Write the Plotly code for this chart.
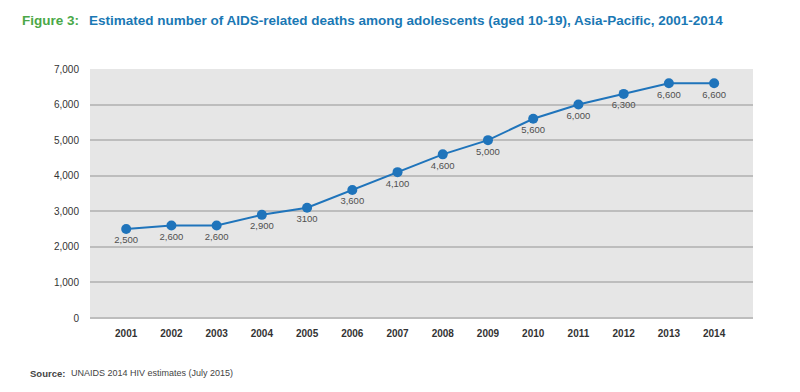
import plotly.graph_objects as go

years = [2001, 2002, 2003, 2004, 2005, 2006, 2007, 2008, 2009, 2010, 2011, 2012, 2013, 2014]
deaths = [2500, 2600, 2600, 2900, 3100, 3600, 4100, 4600, 5000, 5600, 6000, 6300, 6600, 6600]
labels = ["2,500", "2,600", "2,600", "2,900", "3100", "3,600", "4,100", "4,600", "5,000",
          "5,600", "6,000", "6,300", "6,600", "6,600"]
y_ticks = [0, 1000, 2000, 3000, 4000, 5000, 6000, 7000]
y_tick_labels = ["0", "1,000", "2,000", "3,000", "4,000", "5,000", "6,000", "7,000"]

FONT = "Liberation Sans, Arial"
BLUE = "#1f74bb"

L, R, T, B = 90, 47, 69, 74
W, H = 800, 392

fig = go.Figure()
fig.add_trace(go.Scatter(
    x=years, y=deaths, mode="lines+markers+text",
    text=labels, textposition="bottom center",
    textfont=dict(family=FONT, size=9.5, color="#505050"),
    line=dict(color=BLUE, width=2),
    marker=dict(color=BLUE, size=10),
    cliponaxis=False, hoverinfo="skip",
))


def px_ann(text, px, py, size, color, anchor="left"):
    return dict(
        text=text, x=(px - L) / (W - L - R), y=1 - (py - T) / (H - T - B),
        xref="paper", yref="paper", showarrow=False,
        xanchor=anchor, yanchor="middle",
        font=dict(family=FONT, size=size, color=color),
    )


fig.update_layout(
    width=W, height=H,
    margin=dict(l=L, r=R, t=T, b=B),
    paper_bgcolor="white", plot_bgcolor="#e6e6e6",
    showlegend=False,
    font=dict(family=FONT, size=10, color="#333333"),
    xaxis=dict(
        tickmode="array", tickvals=years, ticktext=[f"<b>{y}</b>" for y in years],
        range=[2000.2, 2014.86], showgrid=False, zeroline=False, showline=False,
        ticks="", ticklabelstandoff=8, tickfont=dict(family=FONT, size=10, color="#333333"),
        fixedrange=True,
    ),
    yaxis=dict(
        tickmode="array", tickvals=y_ticks, ticktext=y_tick_labels,
        range=[0, 7000], showgrid=True, gridcolor="#bdbdbd", gridwidth=2,
        zeroline=True, zerolinecolor="#bdbdbd", zerolinewidth=2, showline=False,
        ticks="", ticklabelstandoff=10, tickfont=dict(family=FONT, size=10, color="#333333"),
        fixedrange=True,
    ),
    annotations=[
        px_ann("<b>Figure 3:</b>", 20, 20, 13.5, "#4aa847"),
        px_ann("<b>Estimated number of AIDS-related deaths among adolescents (aged 10-19), Asia-Pacific, 2001-2014</b>",
               87, 20, 13.5, "#1a78b4"),
        px_ann("<b>Source:</b>", 28, 373, 9.5, "#444444"),
        px_ann("UNAIDS 2014 HIV estimates (July 2015)", 69, 373, 9, "#444444"),
    ],
)

fig.write_html("out.html", config={"displayModeBar": False},
               post_script="document.body.style.margin='0';")
